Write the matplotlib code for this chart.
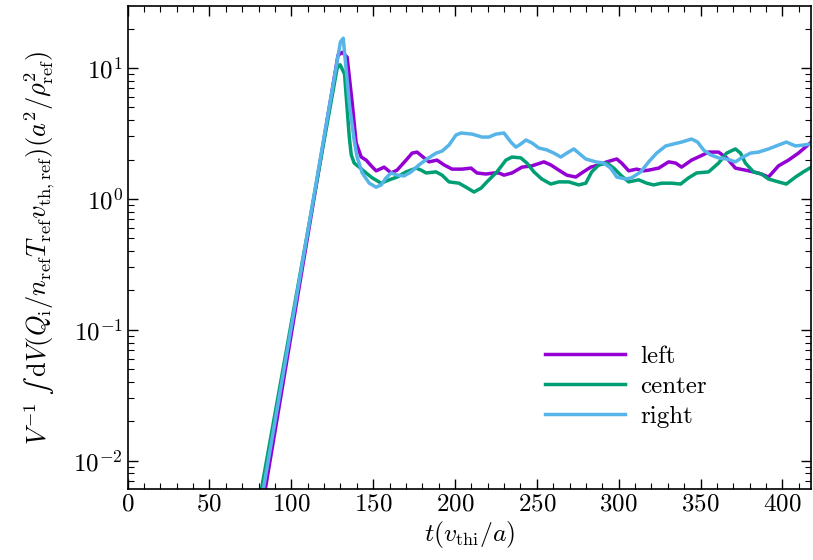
import matplotlib
matplotlib.use("Agg")
import matplotlib.pyplot as plt
from matplotlib.ticker import LogLocator, MultipleLocator, NullFormatter

plt.rcParams['font.family'] = 'serif'
plt.rcParams['font.serif'] = ['cmr10']
plt.rcParams['mathtext.fontset'] = 'cm'
plt.rcParams['axes.formatter.use_mathtext'] = True

# ---- data ----
t_left = [80, 128.5, 131.1, 134.1, 137.2, 139.6, 142.7, 145.7, 148.8, 151.8, 156.7, 161.0, 164.6, 170.1,
          173.8, 176.8, 181.1, 184.1, 189.0, 193.3, 198.2, 204.3, 209.8, 213.4, 218.9, 223.8,
          226.8, 229.9, 234.8, 240.9, 247.0, 254.3, 258.5, 263.4, 268.3, 273.8, 277.4, 282.9,
          287.8, 292.7, 298.8, 301.8, 306.1, 311.0, 315.2, 318.3, 324.4, 330.5, 334.8, 338.4,
          344.5, 350.0, 354.9, 361.0, 365.9, 371.3, 377.4, 382.3, 387.2, 391.5, 397.6, 403.7,
          409.8, 417.7]
q_left = [0.0030, 12.5, 13.2, 12.1, 5.4, 2.68, 2.09, 1.98, 1.79, 1.64, 1.75, 1.58, 1.66, 1.98,
          2.24, 2.28, 2.06, 1.92, 1.98, 1.82, 1.69, 1.69, 1.72, 1.58, 1.55, 1.58,
          1.58, 1.52, 1.58, 1.75, 1.79, 1.92, 1.82, 1.66, 1.52, 1.47, 1.58, 1.75,
          1.82, 1.92, 2.02, 1.88, 1.64, 1.69, 1.64, 1.66, 1.72, 1.92, 1.88, 1.75,
          1.98, 2.13, 2.28, 2.28, 2.06, 1.72, 1.66, 1.61, 1.55, 1.47, 1.79, 1.98,
          2.24, 2.72]

t_center = [80, 128.0, 129.8, 132.5, 135.4, 136.6, 138.4, 141.5, 145.7, 149.4, 154.9, 159.8, 164.6,
            170.1, 176.2, 179.3, 182.3, 188.4, 192.1, 196.3, 202.4, 206.7, 211.6, 215.9, 219.5,
            225.6, 231.1, 234.8, 240.2, 243.9, 248.2, 253.0, 258.5, 263.4, 269.5, 275.6, 279.9,
            283.5, 287.8, 292.7, 297.0, 301.2, 306.1, 312.2, 317.1, 321.3, 326.2, 332.3, 337.8,
            342.7, 347.6, 354.9, 361.0, 365.9, 371.3, 374.4, 377.4, 382.3, 387.2, 391.5, 397.6,
            402.4, 408.0, 412.8, 417.7]
q_center = [0.0046, 10.0, 10.6, 9.0, 2.97, 2.17, 1.88, 1.75, 1.58, 1.45, 1.32, 1.40, 1.47,
            1.61, 1.72, 1.66, 1.58, 1.61, 1.52, 1.35, 1.32, 1.23, 1.13, 1.21, 1.35,
            1.61, 1.98, 2.09, 2.06, 1.88, 1.61, 1.42, 1.30, 1.35, 1.35, 1.28, 1.32,
            1.61, 1.82, 1.88, 1.72, 1.52, 1.35, 1.40, 1.32, 1.28, 1.32, 1.32, 1.30,
            1.45, 1.58, 1.61, 1.88, 2.24, 2.41, 2.24, 1.88, 1.61, 1.55, 1.42, 1.35,
            1.30, 1.47, 1.61, 1.75]

t_right = [80, 130.0, 131.7, 135.4, 138.4, 140.2, 143.3, 147.6, 151.8, 154.9, 157.9, 161.0, 164.6,
           168.9, 173.2, 178.0, 182.9, 188.4, 192.1, 196.3, 200.6, 203.7, 210.4, 216.5, 220.7,
           225.0, 229.9, 234.1, 237.2, 240.2, 243.3, 247.0, 251.2, 256.1, 260.4, 264.6, 268.3,
           272.6, 275.6, 279.9, 286.0, 290.9, 295.1, 298.8, 304.3, 307.9, 313.4, 318.3, 323.2,
           328.7, 333.5, 338.4, 344.5, 348.2, 351.8, 356.1, 361.0, 365.9, 371.3, 375.0, 380.5,
           385.4, 391.5, 397.6, 402.4, 408.0, 412.8, 417.7]
q_right = [0.00375, 15.8, 16.9, 5.4, 2.8, 2.09, 1.58, 1.32, 1.23, 1.28, 1.45, 1.58, 1.52,
           1.50, 1.61, 1.82, 2.02, 2.24, 2.32, 2.58, 3.08, 3.19, 3.13, 2.97, 2.97,
           3.13, 3.19, 2.72, 2.49, 2.63, 2.82, 2.68, 2.45, 2.37, 2.24, 2.09, 2.24,
           2.41, 2.24, 2.02, 1.92, 1.88, 1.72, 1.47, 1.42, 1.45, 1.61, 1.92, 2.24,
           2.54, 2.63, 2.72, 2.87, 2.72, 2.37, 2.17, 2.06, 2.02, 1.92, 2.06, 2.24,
           2.28, 2.41, 2.58, 2.72, 2.54, 2.58, 2.63]

labels = ['left', 'center', 'right']
colors = ['#9400D3', '#009E73', '#56B4E9']

fig = plt.figure(figsize=(8.13, 5.60), dpi=100)
ax = fig.add_axes([0.157, 0.127, 0.841, 0.862])

for t, q, lab, c in zip([t_left, t_center, t_right], [q_left, q_center, q_right], labels, colors):
    ax.plot(t, q, color=c, lw=2.5, label=lab)

ax.set_yscale('log')
ax.set_xlim(0, 417.7)
ax.set_ylim(0.0061, 29.7)
ax.xaxis.set_major_locator(MultipleLocator(50))
ax.xaxis.set_minor_locator(MultipleLocator(10))
ax.yaxis.set_major_locator(LogLocator(base=10, numticks=10))
ax.yaxis.set_minor_locator(LogLocator(base=10, subs=range(2, 10), numticks=20))
ax.yaxis.set_minor_formatter(NullFormatter())
ax.tick_params(which='both', direction='in', top=True, right=True, labelsize=18)
ax.tick_params(which='major', length=7, width=1)
ax.tick_params(which='minor', length=4, width=0.8)
for s in ax.spines.values():
    s.set_linewidth(1.2)

ax.set_xlabel(r'$t(v_{\mathrm{thi}}/a)$', fontsize=18.5, labelpad=2)
ax.set_ylabel('$V^{-1}\\;\u222b\\;\\mathrm{d}V(Q_\\mathrm{i}/n_\\mathrm{ref}T_\\mathrm{ref}v_\\mathrm{th,ref})(a^2/\\rho_\\mathrm{ref}^2)$',
              fontsize=19, labelpad=12)

ax.legend(loc='lower right', bbox_to_anchor=(0.88, 0.08), frameon=False, fontsize=18,
          handlelength=3.2, handletextpad=0.6, labelspacing=0.3)

fig.savefig('out.png', dpi=100)
